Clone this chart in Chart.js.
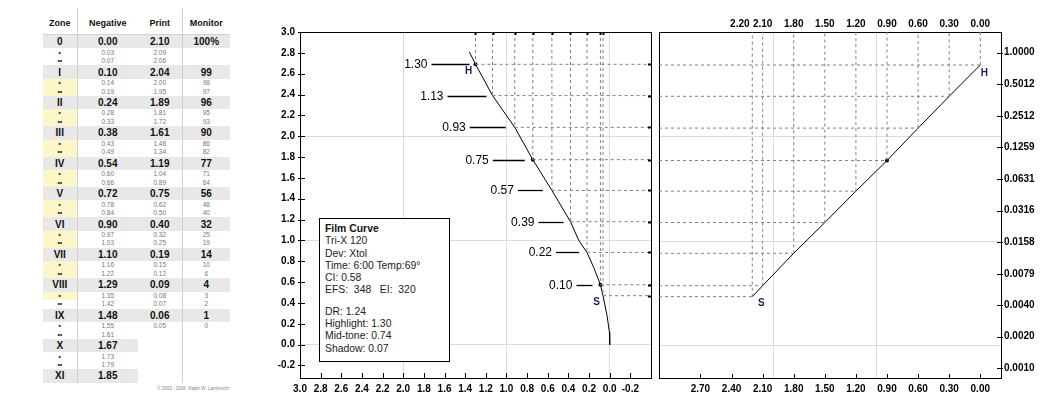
<!DOCTYPE html>
<html>
<head>
<meta charset="utf-8">
<title>Film Curve</title>
<script src="https://cdn.jsdelivr.net/npm/chart.js@4.4.1/dist/chart.umd.min.js"></script>
<style>
  body { margin: 0; width: 1047px; height: 399px; position: relative; overflow: hidden; background: #fff; font-family: "Liberation Sans", Arial, sans-serif; }
  canvas { display: block; }
  #zoneTable { position: absolute; left: 43px; top: 8px; width: 187px; border-collapse: collapse; table-layout: fixed; color: #111; }
  #zoneTable th { height: 22px; padding: 4px 0 0 0; font-size: 9px; font-weight: bold; border-bottom: 1px solid #d0d0d0; }
  #zoneTable td { padding: 0; text-align: center; }
  #zoneTable tr.main td { height: 13.4px; line-height: 13px; font-size: 10px; font-weight: bold; background: #e8e8e8; }
  #zoneTable tr.sub td { height: 8.5px; line-height: 8px; font-size: 6.5px; color: #777; }
  #zoneTable tr.sub td.dot { color: #222; font-weight: bold; }
  #zoneTable .sep { border-right: 1px solid #d0d0d0; }
  #zoneTable tr.main td.blank { background: #fff; }
  #zoneTable tr.sub td.cream { background: #fdf6c8; }
  #copy { position: absolute; right: 818px; top: 386px; font-size: 4.5px; color: #888; white-space: pre; }
  #leftWrap { position: absolute; left: 262px; top: 0; }
  #rightWrap { position: absolute; left: 655px; top: 0; }
  #info { position: absolute; left: 319px; top: 218px; width: 131px; height: 144px; box-sizing: border-box; border: 1px solid #000; background: #fff; padding: 4px 0 0 5px; font-size: 10.4px; line-height: 12.3px; color: #222; }
  #info b { color: #111; }
  #info .gap { margin-top: 9px; }
</style>
</head>
<body>
<table id="zoneTable"></table>
<div id="copy">© 2000 - 2006  Ralph W. Lambrecht</div>
<div id="leftWrap"><canvas id="leftChart" width="393" height="399"></canvas></div>
<div id="rightWrap"><canvas id="rightChart" width="392" height="399"></canvas></div>
<div id="info">
  <div><b>Film Curve</b></div>
  <div>Tri-X 120</div>
  <div>Dev: Xtol</div>
  <div>Time: 6:00 Temp:69°</div>
  <div>CI: 0.58</div>
  <div>EFS:&nbsp; 348 &nbsp; EI:&nbsp; 320</div>
  <div class="gap">DR: 1.24</div>
  <div>Highlight: 1.30</div>
  <div>Mid-tone: 0.74</div>
  <div>Shadow: 0.07</div>
</div>
<script>
// Zone table

const zoneNames = ["0", "I", "II", "III", "IV", "V", "VI", "VII", "VIII", "IX", "X", "XI"];
const negMain = [0.00, 0.10, 0.24, 0.38, 0.54, 0.72, 0.90, 1.10, 1.29, 1.48, 1.67, 1.85];
const negSub = [[0.03, 0.07], [0.14, 0.19], [0.28, 0.33], [0.43, 0.49], [0.60, 0.66], [0.78, 0.84], [0.97, 1.03], [1.16, 1.22], [1.35, 1.42], [1.55, 1.61], [1.73, 1.79]];
const printMain = [2.10, 2.04, 1.89, 1.61, 1.19, 0.75, 0.40, 0.19, 0.09, 0.06];
const printSub = [[2.09, 2.06], [2.00, 1.95], [1.81, 1.72], [1.48, 1.34], [1.04, 0.89], [0.62, 0.50], [0.32, 0.25], [0.15, 0.12], [0.08, 0.07], [0.05], [], []];
const monitorMain = [100, 99, 96, 90, 77, 56, 32, 14, 4, 1];
const monitorSub = [[], [98, 97], [95, 93], [86, 82], [71, 64], [48, 40], [25, 19], [10, 6], [3, 2], [0], [], []];

// Left chart: negative density (x) against log exposure (y)

const curveDensity = [1.36, 1.30, 1.135, 0.92, 0.745, 0.56, 0.38, 0.30, 0.22, 0.155, 0.09, 0.065, 0.026, 0.003, 0.0];
const curveLogE = [2.81, 2.69, 2.39, 2.085, 1.775, 1.48, 1.18, 1.00, 0.885, 0.74, 0.575, 0.47, 0.28, 0.12, 0.0];
const zoneDensity = [1.30, 1.135, 0.92, 0.745, 0.56, 0.38, 0.22, 0.09, 0.065];
const zoneLogE = [2.69, 2.39, 2.085, 1.775, 1.48, 1.18, 0.885, 0.575, 0.47];
const zoneLabels = ["1.30", "1.13", "0.93", "0.75", "0.57", "0.39", "0.22", "0.10"];
const leftMarked = [0, 3, 7];
const densityTicks = [3.0, 2.8, 2.6, 2.4, 2.2, 2.0, 1.8, 1.6, 1.4, 1.2, 1.0, 0.8, 0.6, 0.4, 0.2, 0.0, -0.2];
const logETicks = [3.0, 2.8, 2.6, 2.4, 2.2, 2.0, 1.8, 1.6, 1.4, 1.2, 1.0, 0.8, 0.6, 0.4, 0.2, 0.0, -0.2];

// Right chart: print density (x) against relative luminance (log y)

const printDensity = [0.00, 0.30, 0.60, 0.90, 1.20, 1.50, 1.80, 2.10, 2.20];
const printLum = [0.764, 0.385, 0.192, 0.0944, 0.0483, 0.0243, 0.0124, 0.0061, 0.0048];
const rightMarked = [3];
const printTicks = [2.70, 2.40, 2.10, 1.80, 1.50, 1.20, 0.90, 0.60, 0.30, 0.00];
const lumTicks = [1.0000, 0.5012, 0.2512, 0.1259, 0.0631, 0.0316, 0.0158, 0.0079, 0.0040, 0.0020, 0.0010];
const rightGridX = [2.0, 1.0];
const rightGridY = [0.159, 0.0162, 0.00164];

// Layout

const leftX = { min: -0.4, max: 3.0 };
const leftY = { min: -0.32, max: 3.0 };
const rightX = { min: -0.2, max: 3.1 };
const rightY = { min: 0.000809, max: 1.573 };
const leaderLen = [38, 39, 36, 32, 25, 25, 23, 16];
const leaderGap = [6, 6, 9, 8, 9, 7, 8, 8];
const fontFamily = '"Liberation Sans", Arial, sans-serif';
const tickFont = { family: fontFamily, size: 10, weight: "bold" };
const gridGray = "#dcdcdc";
const dashGray = "#808080";
const hsColor = "#1c1c58";

// Build table

let rows = '<colgroup><col style="width:34px"><col style="width:61px"><col style="width:44px"><col style="width:48px"></colgroup>';
rows += '<tr><th class="sep">Zone</th><th>Negative</th><th class="sep">Print</th><th>Monitor</th></tr>';
zoneNames.forEach((z, i) => {
  const p = printMain[i];
  const m = monitorMain[i];
  const blank = p === undefined ? " blank" : "";
  rows += `<tr class="main"><td class="sep">${z}</td><td>${negMain[i].toFixed(2)}</td>` +
    `<td class="sep${blank}">${p === undefined ? "" : p.toFixed(2)}</td>` +
    `<td class="${blank}">${m === undefined ? "" : m + (i === 0 ? "%" : "")}</td></tr>`;
  if (!negSub[i]) return;
  ["•", "••"].forEach((dot, k) => {
    const cream = i >= 1 && i <= 8 && !(i === 8 && k === 1);
    const ps = printSub[i][k];
    const ms = monitorSub[i][k];
    rows += `<tr class="sub"><td class="sep dot${cream ? " cream" : ""}">${dot}</td><td>${negSub[i][k].toFixed(2)}</td>` +
      `<td class="sep">${ps === undefined ? "" : ps.toFixed(2)}</td><td>${ms === undefined ? "" : ms}</td></tr>`;
  });
});
document.querySelector("#zoneTable").innerHTML = rows;

// Helpers

const setTicks = (vals) => (scale) => {
  scale.ticks = vals.map((v) => ({ value: v }));
};
const fit = (w, h) => (scale) => {
  if (w !== undefined) scale.width = w;
  if (h !== undefined) scale.height = h;
  scale.paddingLeft = scale.paddingRight = scale.paddingTop = scale.paddingBottom = 0;
};
const dashed = (points) => ({
  data: points,
  showLine: true,
  borderColor: dashGray,
  borderWidth: 1,
  borderDash: [3, 3],
  pointRadius: 0,
});
const noGrid = { display: false, drawTicks: false };

// short tick marks drawn inside the plot box
const innerTicks = {
  id: "innerTicks",
  afterDraw(chart) {
    const ctx = chart.ctx;
    ctx.save();
    ctx.strokeStyle = "#000";
    Object.values(chart.scales).forEach((s) => {
      const o = s.options.innerTick;
      if (!o) return;
      ctx.lineWidth = o.width || 1;
      s.ticks.forEach((t) => {
        const p = Math.round(s.getPixelForValue(t.value)) + 0.5;
        ctx.beginPath();
        if (s.position === "bottom") { ctx.moveTo(p, s.top + (o.out || 0)); ctx.lineTo(p, s.top - o.in); }
        if (s.position === "top") { ctx.moveTo(p, s.bottom - (o.out || 0)); ctx.lineTo(p, s.bottom + o.in); }
        if (s.position === "left") { ctx.moveTo(s.right - (o.out || 0), p); ctx.lineTo(s.right + o.in, p); }
        if (s.position === "right") { ctx.moveTo(s.left + (o.out || 0), p); ctx.lineTo(s.left - o.in, p); }
        ctx.stroke();
      });
    });
    ctx.restore();
  },
};

const drawHS = (chart, dens, vals, marks) => {
  const { ctx, scales: { x, y } } = chart;
  ctx.font = `bold 10px ${fontFamily}`;
  ctx.fillStyle = hsColor;
  ctx.textAlign = "center";
  ctx.textBaseline = "middle";
  marks.forEach((m) => {
    ctx.fillText(m.t, x.getPixelForValue(dens[m.i]) + m.dx, y.getPixelForValue(vals[m.i]) + m.dy);
  });
};

const leftLabels = {
  id: "leftLabels",
  afterDatasetsDraw(chart) {
    const { ctx, scales: { x, y } } = chart;
    ctx.save();
    ctx.font = `12px ${fontFamily}`;
    ctx.fillStyle = "#000";
    ctx.strokeStyle = "#000";
    ctx.lineWidth = 1.3;
    ctx.textAlign = "right";
    ctx.textBaseline = "middle";
    zoneLabels.forEach((t, i) => {
      const px = x.getPixelForValue(zoneDensity[i]);
      const py = Math.round(y.getPixelForValue(zoneLogE[i])) + 0.5;
      const x1 = px - leaderGap[i];
      const x0 = x1 - leaderLen[i];
      ctx.beginPath();
      ctx.moveTo(x0, py);
      ctx.lineTo(x1, py);
      ctx.stroke();
      ctx.fillText(t, x0 - 4, py + 0.5);
    });
    drawHS(chart, zoneDensity, zoneLogE, [
      { t: "H", i: 0, dx: -7, dy: 7 },
      { t: "S", i: zoneDensity.length - 1, dx: -6.5, dy: 6.5 },
    ]);
    ctx.restore();
  },
};

const rightLabels = {
  id: "rightLabels",
  afterDatasetsDraw(chart) {
    chart.ctx.save();
    drawHS(chart, printDensity, printLum, [
      { t: "H", i: 0, dx: 4, dy: 8 },
      { t: "S", i: printDensity.length - 1, dx: 9, dy: 7 },
    ]);
    chart.ctx.restore();
  },
};

const baseOptions = {
  responsive: false,
  animation: false,
  events: [],
  layout: { padding: 0 },
  plugins: { legend: { display: false }, tooltip: { enabled: false } },
};

// Left chart

const leftDatasets = [];
zoneDensity.forEach((d, i) => {
  leftDatasets.push(dashed([{ x: d, y: leftY.max }, { x: d, y: zoneLogE[i] }]));
  leftDatasets.push(dashed([{ x: d, y: zoneLogE[i] }, { x: leftX.min, y: zoneLogE[i] }]));
});
leftDatasets.push({
  data: curveDensity.map((d, i) => ({ x: d, y: curveLogE[i] })),
  showLine: true,
  borderColor: "#000",
  borderWidth: 1,
  pointRadius: 0,
});
leftDatasets.push({
  data: leftMarked.map((i) => ({ x: zoneDensity[i], y: zoneLogE[i] })),
  backgroundColor: "#000",
  borderWidth: 0,
  pointRadius: 2,
});

const leftGridColor = (c) => (c.tick && Number.isInteger(c.tick.value) ? gridGray : "rgba(0,0,0,0)");

const leftChart = new Chart(document.getElementById("leftChart"), {
  type: "scatter",
  data: { datasets: leftDatasets },
  options: {
    ...baseOptions,
    scales: {
      x: {
        type: "linear", position: "bottom", reverse: true, min: leftX.min, max: leftX.max,
        afterBuildTicks: setTicks(densityTicks), afterFit: fit(undefined, 21),
        grid: { drawTicks: false, color: leftGridColor },
        border: { color: "#000" },
        ticks: { font: tickFont, color: "#000", padding: 5, autoSkip: false, maxRotation: 0, minRotation: 0, callback: (v) => Number(v).toFixed(1) },
        innerTick: { in: 5 },
      },
      x2: {
        type: "linear", position: "top", reverse: true, min: leftX.min, max: leftX.max,
        afterBuildTicks: setTicks(zoneDensity), afterFit: fit(undefined, 32),
        grid: noGrid, ticks: { display: false },
        border: { color: "#000" },
        innerTick: { in: 3, width: 2 },
      },
      y: {
        type: "linear", position: "left", min: leftY.min, max: leftY.max,
        afterBuildTicks: setTicks(logETicks), afterFit: fit(38),
        grid: { drawTicks: false, color: leftGridColor },
        border: { color: "#000" },
        ticks: { font: tickFont, color: "#000", padding: 5, autoSkip: false, callback: (v) => Number(v).toFixed(1) },
        innerTick: { in: 5, out: 2 },
      },
      y2: {
        type: "linear", position: "right", min: leftY.min, max: leftY.max,
        afterBuildTicks: setTicks(zoneLogE), afterFit: fit(3),
        grid: noGrid, ticks: { display: false },
        border: { color: "#000" },
        innerTick: { in: 3, width: 2 },
      },
    },
  },
  plugins: [innerTicks, leftLabels],
});

// Right chart

const rightDatasets = [];
printDensity.forEach((d, i) => {
  rightDatasets.push(dashed([{ x: rightX.max, y: printLum[i] }, { x: d, y: printLum[i] }]));
  rightDatasets.push(dashed([{ x: d, y: printLum[i] }, { x: d, y: rightY.max }]));
});
rightDatasets.push({
  data: printDensity.map((d, i) => ({ x: d, y: printLum[i] })),
  showLine: true,
  borderColor: "#000",
  borderWidth: 1,
  pointRadius: 0,
});
rightDatasets.push({
  data: rightMarked.map((i) => ({ x: printDensity[i], y: printLum[i] })),
  backgroundColor: "#000",
  borderWidth: 0,
  pointRadius: 2,
});

const rightChart = new Chart(document.getElementById("rightChart"), {
  type: "scatter",
  data: { datasets: rightDatasets },
  options: {
    ...baseOptions,
    scales: {
      x: {
        type: "linear", position: "bottom", reverse: true, min: rightX.min, max: rightX.max,
        afterBuildTicks: setTicks(printTicks), afterFit: fit(undefined, 21),
        grid: noGrid,
        border: { color: "#000" },
        ticks: { font: tickFont, color: "#000", padding: 5, autoSkip: false, maxRotation: 0, minRotation: 0, callback: (v) => Number(v).toFixed(2) },
        innerTick: { in: 4 },
      },
      xg: {
        type: "linear", position: "bottom", reverse: true, min: rightX.min, max: rightX.max,
        afterBuildTicks: setTicks(rightGridX), afterFit: fit(undefined, 0),
        grid: { drawTicks: false, color: gridGray },
        border: { display: false }, ticks: { display: false },
      },
      x2: {
        type: "linear", position: "top", reverse: true, min: rightX.min, max: rightX.max,
        // nudge a label that would sit on top of its neighbour
        afterBuildTicks: (s) => {
          s.ticks = printDensity.map((v, i) => ({
            value: i > 0 && v - printDensity[i - 1] < 0.2 ? v + 0.12 : v,
          }));
        },
        afterFit: fit(undefined, 32),
        grid: noGrid,
        border: { color: "#000" },
        ticks: { font: tickFont, color: "#000", padding: 2, autoSkip: false, maxRotation: 0, minRotation: 0, callback: (v, i) => printDensity[i].toFixed(2) },
      },
      y: {
        type: "logarithmic", position: "right", min: rightY.min, max: rightY.max,
        afterBuildTicks: setTicks(lumTicks), afterFit: fit(46),
        grid: noGrid,
        border: { color: "#000" },
        ticks: { font: tickFont, color: "#000", padding: 3, autoSkip: false, callback: (v) => Number(v).toFixed(4) },
        innerTick: { in: 4, out: 2 },
      },
      yl: {
        type: "logarithmic", position: "left", min: rightY.min, max: rightY.max,
        afterBuildTicks: setTicks(lumTicks), afterFit: fit(4),
        grid: noGrid, ticks: { display: false },
        border: { color: "#000" },
      },
      yg: {
        type: "logarithmic", position: "left", min: rightY.min, max: rightY.max,
        afterBuildTicks: setTicks(rightGridY), afterFit: fit(0),
        grid: { drawTicks: false, color: gridGray },
        border: { display: false }, ticks: { display: false },
      },
    },
  },
  plugins: [innerTicks, rightLabels],
});
</script>
</body>
</html>
